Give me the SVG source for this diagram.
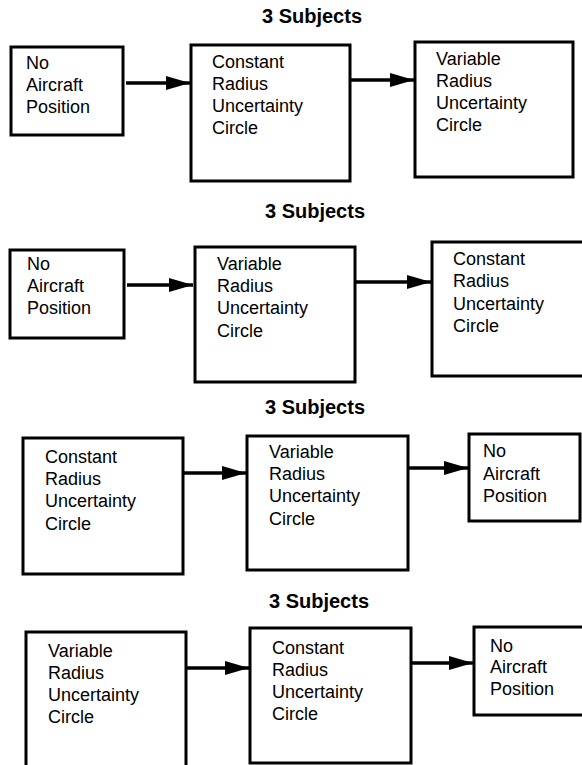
<svg xmlns="http://www.w3.org/2000/svg" width="582" height="765" viewBox="0 0 582 765">
<defs>
<style>
.box{fill:#fff;stroke:#000;stroke-width:3}
.t{font-family:"Liberation Sans",Arial,sans-serif;font-size:18px;fill:#000}
.h{font-family:"Liberation Sans",Arial,sans-serif;font-size:20px;font-weight:bold;fill:#000;text-anchor:middle}
.c{stroke:#000;stroke-width:3.5;fill:none;marker-end:url(#ah)}
</style>
<marker id="ah" markerUnits="userSpaceOnUse" markerWidth="24" markerHeight="16" refX="24" refY="8" orient="auto">
<path d="M0,1 L24,8 L0,15 z" fill="#000"/>
</marker>
</defs>
<rect width="582" height="765" fill="#fff"/>

<text class="h" x="312" y="23">3 Subjects</text>
<text class="h" x="315" y="218">3 Subjects</text>
<text class="h" x="315" y="414">3 Subjects</text>
<text class="h" x="319" y="608">3 Subjects</text>

<g id="connectors">
<line class="c" x1="126" y1="83" x2="190" y2="83"/>
<line class="c" x1="351" y1="80" x2="414" y2="80"/>
<line class="c" x1="127" y1="285" x2="193" y2="285"/>
<line class="c" x1="355" y1="282" x2="431" y2="282"/>
<line class="c" x1="184" y1="473" x2="246" y2="473"/>
<line class="c" x1="409" y1="468" x2="468" y2="468"/>
<line class="c" x1="187" y1="668" x2="249" y2="668"/>
<line class="c" x1="412" y1="663" x2="473" y2="663"/>
</g>

<g id="r1a"><rect class="box" x="11" y="47" width="112" height="88"/>
<text class="t" x="26" y="69">No</text><text class="t" x="26" y="91">Aircraft</text><text class="t" x="26" y="113">Position</text></g>
<g id="r1b"><rect class="box" x="191" y="45" width="159" height="136"/>
<text class="t" x="212" y="68">Constant</text><text class="t" x="212" y="90">Radius</text><text class="t" x="212" y="112">Uncertainty</text><text class="t" x="212" y="134">Circle</text></g>
<g id="r1c"><rect class="box" x="415" y="42" width="158" height="135"/>
<text class="t" x="436" y="65">Variable</text><text class="t" x="436" y="87">Radius</text><text class="t" x="436" y="109">Uncertainty</text><text class="t" x="436" y="131">Circle</text></g>

<g id="r2a"><rect class="box" x="10" y="250" width="114" height="88"/>
<text class="t" x="27" y="270">No</text><text class="t" x="27" y="292">Aircraft</text><text class="t" x="27" y="314">Position</text></g>
<g id="r2b"><rect class="box" x="195" y="247" width="160" height="135"/>
<text class="t" x="217" y="270">Variable</text><text class="t" x="217" y="292">Radius</text><text class="t" x="217" y="314">Uncertainty</text><text class="t" x="217" y="337">Circle</text></g>
<g id="r2c"><rect class="box" x="432" y="242" width="160" height="134"/>
<text class="t" x="453" y="265">Constant</text><text class="t" x="453" y="287">Radius</text><text class="t" x="453" y="310">Uncertainty</text><text class="t" x="453" y="332">Circle</text></g>

<g id="r3a"><rect class="box" x="23" y="438" width="160" height="136"/>
<text class="t" x="45" y="463">Constant</text><text class="t" x="45" y="485">Radius</text><text class="t" x="45" y="507">Uncertainty</text><text class="t" x="45" y="530">Circle</text></g>
<g id="r3b"><rect class="box" x="247" y="436" width="161" height="134"/>
<text class="t" x="269" y="458">Variable</text><text class="t" x="269" y="480">Radius</text><text class="t" x="269" y="502">Uncertainty</text><text class="t" x="269" y="525">Circle</text></g>
<g id="r3c"><rect class="box" x="469" y="434" width="111" height="87"/>
<text class="t" x="483" y="457">No</text><text class="t" x="483" y="480">Aircraft</text><text class="t" x="483" y="502">Position</text></g>

<g id="r4a"><rect class="box" x="26" y="632" width="160" height="145"/>
<text class="t" x="48" y="657">Variable</text><text class="t" x="48" y="679">Radius</text><text class="t" x="48" y="701">Uncertainty</text><text class="t" x="48" y="723">Circle</text></g>
<g id="r4b"><rect class="box" x="250" y="628" width="161" height="135"/>
<text class="t" x="272" y="654">Constant</text><text class="t" x="272" y="676">Radius</text><text class="t" x="272" y="698">Uncertainty</text><text class="t" x="272" y="720">Circle</text></g>
<g id="r4c"><rect class="box" x="474" y="627" width="116" height="88"/>
<text class="t" x="490" y="652">No</text><text class="t" x="490" y="673">Aircraft</text><text class="t" x="490" y="695">Position</text></g>
</svg>
